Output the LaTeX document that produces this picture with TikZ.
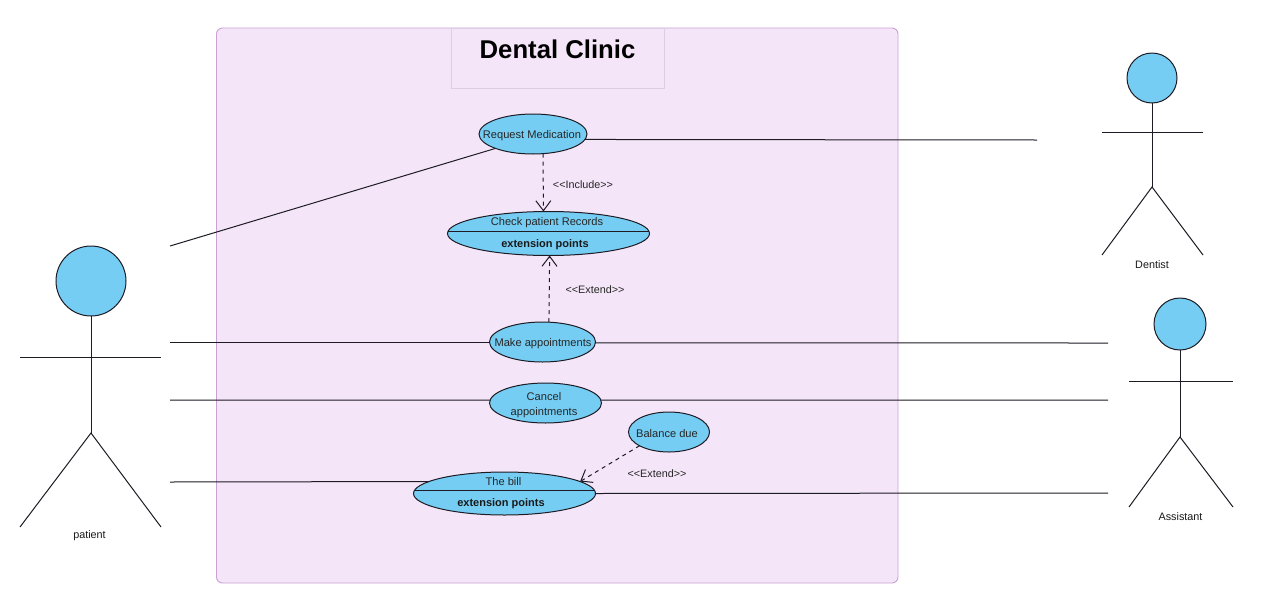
\documentclass[tikz,border=0pt]{standalone}
\usepackage{fontspec}
\setmainfont{Liberation Sans}
\usetikzlibrary{arrows.meta,shapes.geometric}
\definecolor{ucfill}{HTML}{76CDF3}
\definecolor{frameb}{HTML}{C8A2D6}
\definecolor{framef}{HTML}{F4E6F8}
\definecolor{titleb}{HTML}{DDCDE2}
\definecolor{ink}{HTML}{1E1B24}
\tikzset{
  usecase/.style={ellipse,draw=ink,fill=ucfill,line width=1pt,inner sep=0pt,outer sep=0pt},
  uctext/.style={font=\fontsize{11.1}{15}\selectfont,text=black!85,align=center,inner sep=0pt},
  ucbold/.style={font=\fontsize{11}{13}\selectfont\bfseries,text=black!90,inner sep=0pt},
  stereo/.style={font=\fontsize{10.8}{13}\selectfont,text=black!85,inner sep=0pt},
  actorname/.style={font=\fontsize{10.8}{13}\selectfont,text=black!90,inner sep=0pt},
  head/.style={circle,draw=ink,fill=ucfill,line width=1pt,inner sep=0pt,outer sep=0pt},
  limb/.style={draw=ink,line width=1pt},
  assoc/.style={draw=ink,line width=1pt},
  dep/.style={draw=ink,line width=1pt,dash pattern=on 4pt off 4pt,-{Straight Barb[length=10pt,width=15pt,line width=1pt]}}
}
\begin{document}
\begin{tikzpicture}[x=1pt,y=-1pt]
\useasboundingbox (0,0) rectangle (1280,592);
\fill[white] (0,0) rectangle (1280,592);
% system frame
\draw[draw=frameb,fill=framef,line width=0.9pt,rounded corners=6pt] (216.5,28) rectangle (898,583);
\draw[draw=titleb,line width=0.8pt] (451,28) rectangle (664,88);
\node[inner sep=0pt,font=\fontsize{25.7}{30}\selectfont\bfseries] (title) at (557.5,49.5) {Dental Clinic};
% use cases
\node[usecase,minimum width=108pt,minimum height=40pt] (req) at (533,134) {};
\node[uctext] (reqt) at (532,135.5) {Request Medication};
\node[usecase,minimum width=202pt,minimum height=44pt] (chk) at (548.5,233.5) {};
\node[uctext] (chkt) at (547,223) {Check patient Records};
\node[ucbold] (chkb) at (545,244.5) {extension points};
\node[usecase,minimum width=106pt,minimum height=40pt] (mk) at (542.5,342) {};
\node[uctext] (mkt) at (543,343.5) {Make appointments};
\node[usecase,minimum width=112pt,minimum height=40pt] (cn) at (545.5,403) {};
\node[uctext] (cnt) at (544,405.5) {Cancel\\appointments};
\node[usecase,minimum width=81pt,minimum height=40pt] (bal) at (669,432) {};
\node[uctext] (balt) at (667,434) {Balance due};
\node[usecase,minimum width=182pt,minimum height=43pt] (bill) at (504.5,493.5) {};
\node[uctext] (billt) at (503.5,482) {The bill};
\node[ucbold] (billb) at (501,503.5) {extension points};
% compartment lines
\draw[limb] ([xshift=0.7pt,yshift=2.5pt]chk.west) -- ([xshift=-0.7pt,yshift=2.5pt]chk.east);
\draw[limb] ([xshift=0.8pt,yshift=2.8pt]bill.west) -- ([xshift=-0.8pt,yshift=2.8pt]bill.east);
% stereotype labels
\node[stereo] (l1) at (583,185) {<{}<Include>{}>};
\node[stereo] (l2) at (595,290) {<{}<Extend>{}>};
\node[stereo] (l3) at (657,474) {<{}<Extend>{}>};
% dependencies
\draw[dep] (req.-63) -- (chk.103);
\draw[dep] (mk.72) -- (chk.-87);
\draw[dep] (bal.205.8) -- (bill.9.6);
% patient
\node[head,minimum size=70pt] (patH) at (91,281) {};
\coordinate (patHip) at (91,433);
\coordinate (patAL) at (20,357); \coordinate (patAR) at (161,357);
\coordinate (patFL) at (20,527); \coordinate (patFR) at (161,527);
\draw[limb] (patH.south) -- (patHip);
\draw[limb] (patAL) -- (patAR);
\draw[limb] (patFL) -- (patHip) -- (patFR);
\node[actorname] (patN) at (89.5,536) {patient};
% dentist
\node[head,minimum size=50pt] (denH) at (1152,78) {};
\coordinate (denHip) at (1152,187);
\coordinate (denAL) at (1102,132); \coordinate (denAR) at (1203,132);
\coordinate (denFL) at (1102,255); \coordinate (denFR) at (1203,255);
\draw[limb] (denH.south) -- (denHip);
\draw[limb] (denAL) -- (denAR);
\draw[limb] (denFL) -- (denHip) -- (denFR);
\node[actorname] (denN) at (1152,264.5) {Dentist};
% assistant
\node[head,minimum size=52pt] (asH) at (1180,324) {};
\coordinate (asHip) at (1180,437);
\coordinate (asAL) at (1129,381); \coordinate (asAR) at (1233,381);
\coordinate (asFL) at (1129,507); \coordinate (asFR) at (1233,507);
\draw[limb] (asH.south) -- (asHip);
\draw[limb] (asAL) -- (asAR);
\draw[limb] (asFL) -- (asHip) -- (asFR);
\node[actorname] (asN) at (1180.5,516.5) {Assistant};
% association free ends
\coordinate (p1) at (170,246);
\coordinate (p2) at (170,342);
\coordinate (p3) at (170,400);
\coordinate (p4) at (170,482);
\coordinate (d1) at (1037,140);
\coordinate (a1) at (1108,343);
\coordinate (a2) at (1108,400);
\coordinate (a3) at (1108,493);
\draw[assoc] (p1) -- (req.201);
\draw[assoc] (req.-6.5) -- (d1);
\draw[assoc] (p2) -- (mk.180);
\draw[assoc] (mk.-1) -- (a1);
\draw[assoc] (p3) -- (cn.177);
\draw[assoc] (cn.3) -- (a2);
\draw[assoc] (p4) -- (bill.171.6);
\draw[assoc] (bill.0) -- (a3);
\end{tikzpicture}
\end{document}
